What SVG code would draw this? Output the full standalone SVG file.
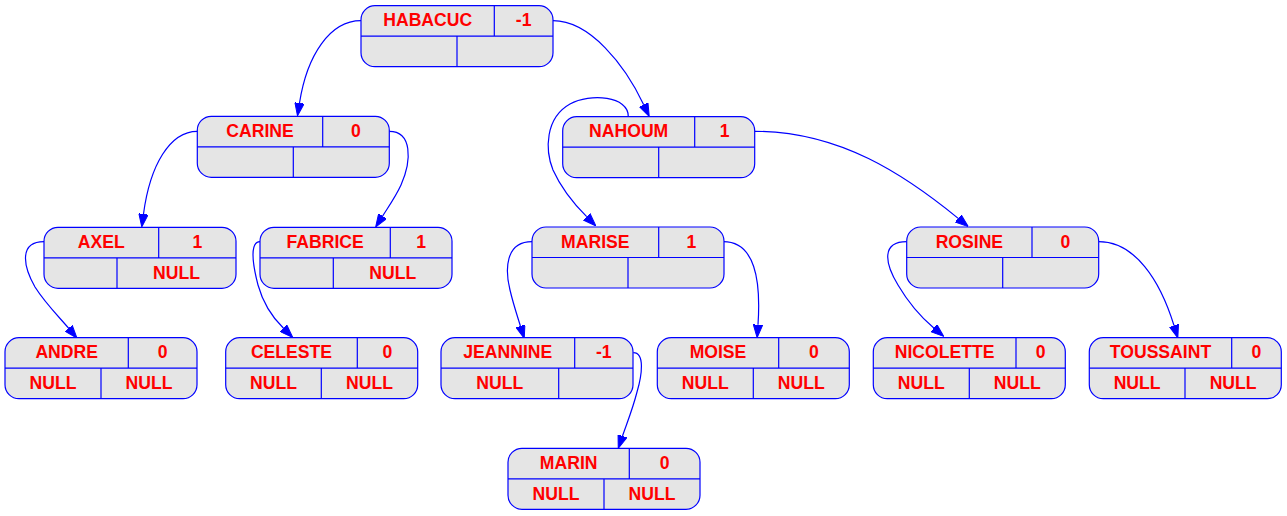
<svg xmlns="http://www.w3.org/2000/svg" width="1287" height="516" viewBox="0 0 1287 516">
<style>
.box{fill:#e5e5e5;stroke:#0000ff;stroke-width:1.2}
.div{fill:none;stroke:#0000ff;stroke-width:1.2}
.t{font-family:"Liberation Sans",Arial,sans-serif;font-weight:bold;font-size:17.6px;fill:#ff0000;text-anchor:middle}
.e{fill:none;stroke:#0000ff;stroke-width:1.2;marker-end:url(#arr)}
</style>
<defs>
<marker id="arr" markerUnits="userSpaceOnUse" viewBox="0 0 13 10" refX="0" refY="5" markerWidth="13" markerHeight="10" orient="auto">
<path d="M0,0.3L13,5L0,9.7z" fill="#0000ff" stroke="#0000ff" stroke-width="1"/>
</marker>
</defs>
<rect width="1287" height="516" fill="#ffffff"/>
<g id="edges">
<path class="e" d="M361,20.7C330,20.7 307,55 299.5,103"/>
<path class="e" d="M553,20.7C590,20.7 625,65 643.7,104.7"/>
<path class="e" d="M197.3,131.3C170,131.3 150,165 143.5,214"/>
<path class="e" d="M389.3,131.3C412,131.3 412,160 401,185C396,196 389,206 382.6,216.1"/>
<path class="e" d="M628.3,116.7C629,96 590,93 570,104C545,118 545,150 553,170C562,190 575,205 586.7,216.7"/>
<path class="e" d="M754.7,131.3C840,131.3 905,175 958.2,218.4"/>
<path class="e" d="M44,241.7C20,241.7 22,264 35,287C45,303 60,318 68.6,328.2"/>
<path class="e" d="M260,241.7C250,241.7 252,262 258,285C263,303 273,318 283.5,328.3"/>
<path class="e" d="M532,241.7C505,241.7 505,270 510,290C513,303 517,315 520.4,326"/>
<path class="e" d="M723.3,241.7C755,241.7 761,280 758,324.7"/>
<path class="e" d="M906.7,241.7C882,241.7 884,262 898,285C908,302 922,318 933.8,328"/>
<path class="e" d="M1098.7,241.7C1135,241.7 1160,280 1174,325.5"/>
<path class="e" d="M633.3,352.7C645,352.7 642,375 637,392C633,408 627,423 622.5,436"/>
</g>
<g id="HABACUC" transform="translate(361,5.7)">
<rect class="box" width="192" height="61" rx="14"/>
<path class="div" d="M0,30.5H192M133.3,0V30.5M96,30.5V61"/>
<text class="t" x="66.7" y="20.5">HABACUC</text><text class="t" x="162.7" y="20.5">-1</text>
</g>
<g id="CARINE" transform="translate(197.3,116.3)">
<rect class="box" width="192" height="61" rx="14"/>
<path class="div" d="M0,30.5H192M125.4,0V30.5M96,30.5V61"/>
<text class="t" x="62.7" y="20.5">CARINE</text><text class="t" x="158.7" y="20.5">0</text>
</g>
<g id="NAHOUM" transform="translate(562.7,116.7)">
<rect class="box" width="192" height="61" rx="14"/>
<path class="div" d="M0,30.5H192M132,0V30.5M96,30.5V61"/>
<text class="t" x="66" y="20.5">NAHOUM</text><text class="t" x="162" y="20.5">1</text>
</g>
<g id="AXEL" transform="translate(44,227.3)">
<rect class="box" width="192" height="61" rx="14"/>
<path class="div" d="M0,30.5H192M114.7,0V30.5M73,30.5V61"/>
<text class="t" x="57.3" y="20.5">AXEL</text><text class="t" x="153.3" y="20.5">1</text>
<text class="t" x="132.5" y="51.5">NULL</text>
</g>
<g id="FABRICE" transform="translate(260,227.3)">
<rect class="box" width="192" height="61" rx="14"/>
<path class="div" d="M0,30.5H192M130.3,0V30.5M73.3,30.5V61"/>
<text class="t" x="65.2" y="20.5">FABRICE</text><text class="t" x="161.2" y="20.5">1</text>
<text class="t" x="132.7" y="51.5">NULL</text>
</g>
<g id="MARISE" transform="translate(532,227)">
<rect class="box" width="192" height="61" rx="14"/>
<path class="div" d="M0,30.5H192M126.7,0V30.5M96,30.5V61"/>
<text class="t" x="63.3" y="20.5">MARISE</text><text class="t" x="159.3" y="20.5">1</text>
</g>
<g id="ROSINE" transform="translate(906.7,227)">
<rect class="box" width="192" height="61" rx="14"/>
<path class="div" d="M0,30.5H192M125.3,0V30.5M96,30.5V61"/>
<text class="t" x="62.7" y="20.5">ROSINE</text><text class="t" x="158.7" y="20.5">0</text>
</g>
<g id="ANDRE" transform="translate(5,337.7)">
<rect class="box" width="192" height="61" rx="14"/>
<path class="div" d="M0,30.5H192M123.3,0V30.5M96,30.5V61"/>
<text class="t" x="61.7" y="20.5">ANDRE</text><text class="t" x="157.7" y="20.5">0</text>
<text class="t" x="48" y="51.5">NULL</text><text class="t" x="144" y="51.5">NULL</text>
</g>
<g id="CELESTE" transform="translate(225.7,337.7)">
<rect class="box" width="192" height="61" rx="14"/>
<path class="div" d="M0,30.5H192M131.6,0V30.5M95.6,30.5V61"/>
<text class="t" x="65.8" y="20.5">CELESTE</text><text class="t" x="161.8" y="20.5">0</text>
<text class="t" x="47.8" y="51.5">NULL</text><text class="t" x="143.8" y="51.5">NULL</text>
</g>
<g id="JEANNINE" transform="translate(441,337.7)">
<rect class="box" width="192" height="61" rx="14"/>
<path class="div" d="M0,30.5H192M133.7,0V30.5M117.7,30.5V61"/>
<text class="t" x="66.8" y="20.5">JEANNINE</text><text class="t" x="162.8" y="20.5">-1</text>
<text class="t" x="58.8" y="51.5">NULL</text>
</g>
<g id="MOISE" transform="translate(657.3,337.7)">
<rect class="box" width="192" height="61" rx="14"/>
<path class="div" d="M0,30.5H192M121.4,0V30.5M96,30.5V61"/>
<text class="t" x="60.7" y="20.5">MOISE</text><text class="t" x="156.7" y="20.5">0</text>
<text class="t" x="48" y="51.5">NULL</text><text class="t" x="144" y="51.5">NULL</text>
</g>
<g id="NICOLETTE" transform="translate(873.3,337.7)">
<rect class="box" width="192" height="61" rx="14"/>
<path class="div" d="M0,30.5H192M142.7,0V30.5M96,30.5V61"/>
<text class="t" x="71.3" y="20.5">NICOLETTE</text><text class="t" x="167.3" y="20.5">0</text>
<text class="t" x="48" y="51.5">NULL</text><text class="t" x="144" y="51.5">NULL</text>
</g>
<g id="TOUSSAINT" transform="translate(1089.3,337.7)">
<rect class="box" width="192" height="61" rx="14"/>
<path class="div" d="M0,30.5H192M142.4,0V30.5M95.7,30.5V61"/>
<text class="t" x="71.2" y="20.5">TOUSSAINT</text><text class="t" x="167.2" y="20.5">0</text>
<text class="t" x="47.8" y="51.5">NULL</text><text class="t" x="143.8" y="51.5">NULL</text>
</g>
<g id="MARIN" transform="translate(508,448.3)">
<rect class="box" width="192" height="61" rx="14"/>
<path class="div" d="M0,30.5H192M121.3,0V30.5M96,30.5V61"/>
<text class="t" x="60.7" y="20.5">MARIN</text><text class="t" x="156.7" y="20.5">0</text>
<text class="t" x="48" y="51.5">NULL</text><text class="t" x="144" y="51.5">NULL</text>
</g>
</svg>
